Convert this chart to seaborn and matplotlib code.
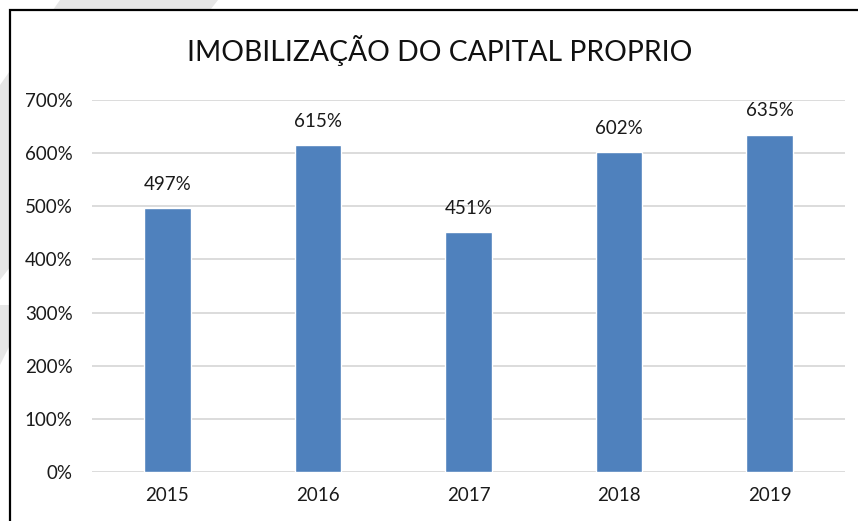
import matplotlib
matplotlib.use("Agg")
import matplotlib.pyplot as plt
import matplotlib.patches as mpatches
import seaborn as sns
import pandas as pd

anos = ["2015", "2016", "2017", "2018", "2019"]
imobilizacao = [497, 615, 451, 602, 635]  # em %
yticks = [0, 100, 200, 300, 400, 500, 600, 700]
titulo = "IMOBILIZAÇÃO DO CAPITAL PROPRIO"

sns.set_theme(style="white")
plt.rcParams["font.family"] = ["Lato", "DejaVu Sans"]

W, H = 858, 521
fig = plt.figure(figsize=(W / 100, H / 100), dpi=100)

# marca d'agua cinza no canto e moldura do grafico (coords em pixels)
def px(x, y):
    return (x / W, 1 - y / H)

fig.patches.append(mpatches.Polygon([px(60, 0), px(218, 0), px(0, 280), px(0, 85)],
                                    closed=True, transform=fig.transFigure,
                                    facecolor="#e6e6e6", edgecolor="none", zorder=0))
fig.patches.append(mpatches.Polygon([px(0, 305), px(30, 305), px(0, 365)],
                                    closed=True, transform=fig.transFigure,
                                    facecolor="#e6e6e6", edgecolor="none", zorder=0))
fig.patches.append(mpatches.Rectangle(px(9.5, 530), (W + 20) / W, 520 / H,
                                      transform=fig.transFigure, facecolor="white",
                                      edgecolor="black", linewidth=1.6, zorder=1))

ax = fig.add_axes([92 / W, 1 - 472 / H, 753 / W, 372 / H])
ax.set_zorder(2)
ax.patch.set_alpha(0)

df = pd.DataFrame({"ano": anos, "valor": imobilizacao})
sns.barplot(data=df, x="ano", y="valor", color="#4f81bd", saturation=1,
            width=0.31, ax=ax, zorder=3)

ax.set_ylim(0, 700)
ax.set_xlim(-0.5, len(anos) - 0.5)
ax.set_yticks(yticks)
ax.set_yticklabels([f"{v}%" for v in yticks])
ax.grid(axis="y", color="#d9d9d9", linewidth=1.3, zorder=0)
ax.set_axisbelow(True)
for s in ax.spines.values():
    s.set_visible(False)
ax.set_xlabel("")
ax.set_ylabel("")
ax.tick_params(axis="both", length=0, labelsize=13.5, colors="#1a1a1a")
ax.tick_params(axis="x", pad=11)
ax.tick_params(axis="y", pad=14)

for i, v in enumerate(imobilizacao):
    ax.annotate(f"{v}%", (i, v), xytext=(0, 11), textcoords="offset points",
                ha="center", va="bottom", fontsize=13.5, color="#1a1a1a")

fig.text(440 / W, 1 - 51 / H, titulo, ha="center", va="center",
         fontsize=20.3, color="#111111", zorder=4)

fig.savefig("out.png", dpi=100)
